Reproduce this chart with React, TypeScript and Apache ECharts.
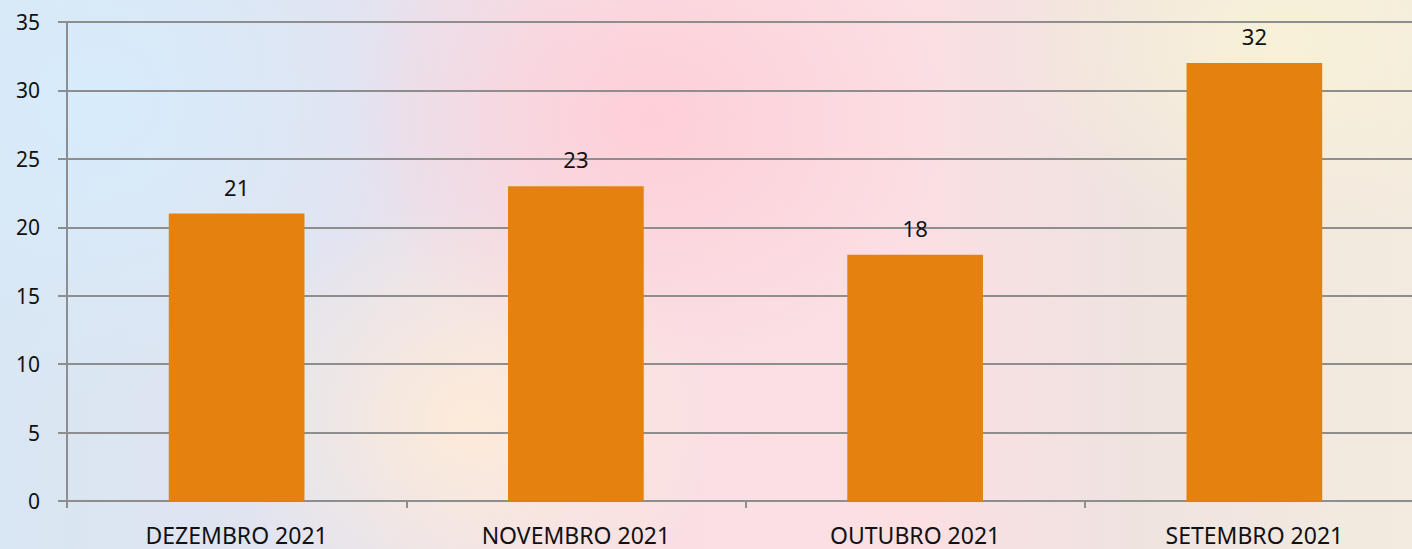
import React, { useEffect, useRef } from "react";
import * as echarts from "echarts";

const categories = ["DEZEMBRO 2021", "NOVEMBRO 2021", "OUTUBRO 2021", "SETEMBRO 2021"];
const values = [21, 23, 18, 32];
const yTicks = { min: 0, max: 35, interval: 5 };

export default function App() {
  const ref = useRef<HTMLDivElement>(null);
  useEffect(() => {
    if (!ref.current) return;
    const chart = echarts.init(ref.current, undefined, { renderer: "svg" });
    const font = "'Noto Sans', 'Open Sans', sans-serif";
    chart.setOption({
      animation: false,
      backgroundColor: "transparent",
      grid: { left: 67, right: 0, top: 22, bottom: 48, containLabel: false },
      xAxis: {
        type: "category",
        data: categories,
        axisLine: { show: true, lineStyle: { color: "#8e8e8e", width: 2 } },
        axisTick: { show: true, length: 7, lineStyle: { color: "#8e8e8e", width: 2 } },
        axisLabel: { color: "#111", fontFamily: font, fontSize: 23, margin: 22 },
        splitLine: { show: false },
      },
      yAxis: {
        type: "value",
        min: yTicks.min,
        max: yTicks.max,
        interval: yTicks.interval,
        axisLine: { show: true, lineStyle: { color: "#8e8e8e", width: 2 } },
        axisTick: { show: true, length: 9, lineStyle: { color: "#8e8e8e", width: 2 } },
        axisLabel: { color: "#111", fontFamily: font, fontSize: 21, margin: 27 },
        splitLine: { show: true, lineStyle: { color: "#8e8e8e", width: 2 } },
      },
      series: [
        {
          type: "bar",
          data: values,
          barWidth: "40%",
          itemStyle: { color: "#E5820F" },
          label: {
            show: true,
            position: "top",
            distance: 16,
            color: "#111",
            fontFamily: font,
            fontSize: 22,
          },
        },
      ],
    });
    return () => chart.dispose();
  }, []);
  return (
    <div
      style={{
        position: "fixed",
        left: 0,
        top: 0,
        width: 1412,
        height: 549,
        overflow: "hidden",
        background:
          "radial-gradient(ellipse 300px 250px at 650px 120px, rgba(255,205,215,0.9), rgba(255,205,215,0) 100%)," +
          "radial-gradient(ellipse 250px 220px at 470px 420px, rgba(255,236,215,0.9), rgba(255,236,215,0) 100%)," +
          "radial-gradient(ellipse 280px 200px at 1280px 40px, rgba(248,242,215,0.95), rgba(248,242,215,0) 100%)," +
          "radial-gradient(ellipse 300px 300px at 100px 100px, rgba(215,236,252,0.95), rgba(215,236,252,0) 100%)," +
          "linear-gradient(90deg, #d9e6f3 0%, #e3e3f0 25%, #f9dfe4 45%, #fbdfe3 65%, #efe3e0 80%, #f3ebdf 100%)",
      }}
    >
      <div ref={ref} style={{ width: 1424, height: 549 }} />
    </div>
  );
}
